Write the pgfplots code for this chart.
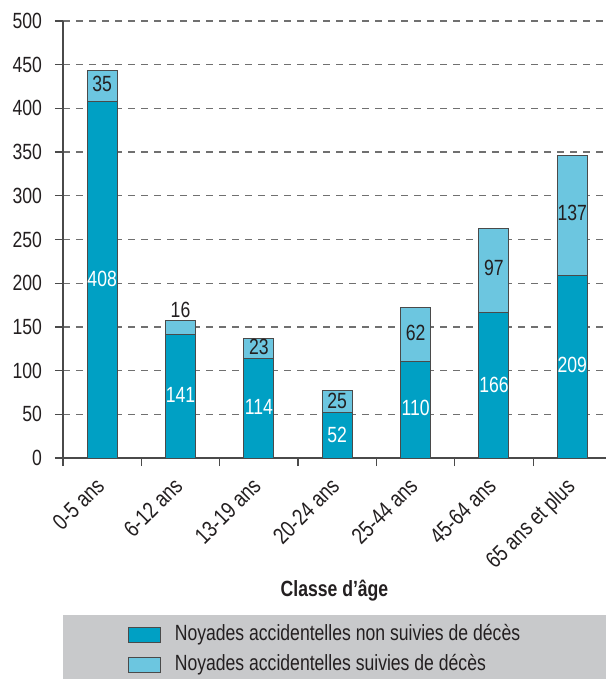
\documentclass[border=0pt]{standalone}
\usepackage{fontspec}
\setmainfont[FakeStretch=0.8]{Liberation Sans}
\usepackage{pgfplots}
\usepackage{pgfplotstable}
\pgfplotsset{compat=1.18}
\definecolor{darkbar}{HTML}{00A0C4}
\definecolor{lightbar}{HTML}{6CC6E0}
\definecolor{legbg}{HTML}{C8C9CB}
\definecolor{axgray}{HTML}{4A4A4A}
\definecolor{gridgray}{HTML}{707070}
\definecolor{txt}{HTML}{231F20}

\pgfplotstableread{
x non suiv
0 408 35
1 141 16
2 114 23
3 52 25
4 110 62
5 166 97
6 209 137
}\datatable

\pgfplotstableread{
x y lab
0 204.8 408
1 72 141
2 58 114
3 26 52
4 57 110
5 83.5 166
6 106 209
}\whitelabels

\pgfplotstableread{
x y lab
0 428 35
1 169 16
2 127 23
3 65 25
4 143 62
5 217 97
6 280 137
}\darklabels

\pgfplotsset{
  commonax/.style={
    scale only axis, width=271.5pt, height=218.5pt,
    at={(0,0)}, anchor=south west,
    xmin=-0.5, xmax=6.43, ymin=0, ymax=500,
  }
}

\begin{document}
\begin{tikzpicture}[font=\fontsize{11}{13}\selectfont]
\path[use as bounding box] (-31.5pt,-110.5pt) rectangle (271.5pt,229pt);
\begin{axis}[
  commonax,
  ybar stacked, bar width=15pt,
  clip=false,
  axis x line=bottom, axis y line=left,
  axis line style={-, draw=axgray, line width=0.7pt},
  ytick={0,50,...,500},
  ymajorgrids,
  grid style={dash pattern=on 3.5pt off 3pt, draw=gridgray, line width=0.6pt},
  tick align=outside,
  major tick length=4pt,
  tick style={draw=axgray, line width=0.6pt},
  yticklabel style={xshift=-3pt, text=txt},
  /pgf/number format/assume math mode=true,
  xtick={-0.5,0.5,...,5.5},
  xticklabels={},
  extra x ticks={0,1,2,3,4,5,6},
  extra x tick labels={0-5 ans,6-12 ans,13-19 ans,20-24 ans,25-44 ans,45-64 ans,65 ans et plus},
  extra x tick style={major tick length=0pt, tick style={draw=none},
    xticklabel style={xshift=-4pt, yshift=-9pt, rotate=45, anchor=north east, inner sep=0pt, text=txt,
      font=\fontsize{11.5}{13}\selectfont}},
  xlabel={\bfseries Classe d’âge},
  xlabel style={at={(axis description cs:0.5,-0.3043)}, anchor=center, text=txt},
  legend style={draw=none, fill=none, at={(axis description cs:0.4825,-0.4394)}, anchor=center,
    row sep=2.5pt, nodes={inner sep=1pt, text height=8pt, text depth=2.5pt, text=txt},
    /tikz/every odd column/.append style={column sep=6pt}},
  legend cell align=left,
  legend image code/.code={\draw[#1] (0pt,-3.75pt) rectangle (16pt,3.75pt);},
]
\fill[legbg] (axis description cs:0,-0.35927) rectangle (axis description cs:1,-0.50572);
\addplot[fill=darkbar, draw=axgray, line width=0.5pt] table[x=x, y=non] {\datatable};
\addlegendentry{Noyades accidentelles non suivies de décès}
\addplot[fill=lightbar, draw=axgray, line width=0.5pt] table[x=x, y=suiv] {\datatable};
\addlegendentry{Noyades accidentelles suivies de décès}
\end{axis}
\begin{axis}[commonax, hide axis, clip=false]
\addplot[draw=none, mark=none, nodes near coords, point meta=explicit symbolic,
  every node near coord/.append style={anchor=center, text=white, inner sep=0pt}]
  table[x=x, y=y, meta=lab] {\whitelabels};
\addplot[draw=none, mark=none, nodes near coords, point meta=explicit symbolic,
  every node near coord/.append style={anchor=center, text=txt, inner sep=0pt}]
  table[x=x, y=y, meta=lab] {\darklabels};
\end{axis}
\end{tikzpicture}
\end{document}
